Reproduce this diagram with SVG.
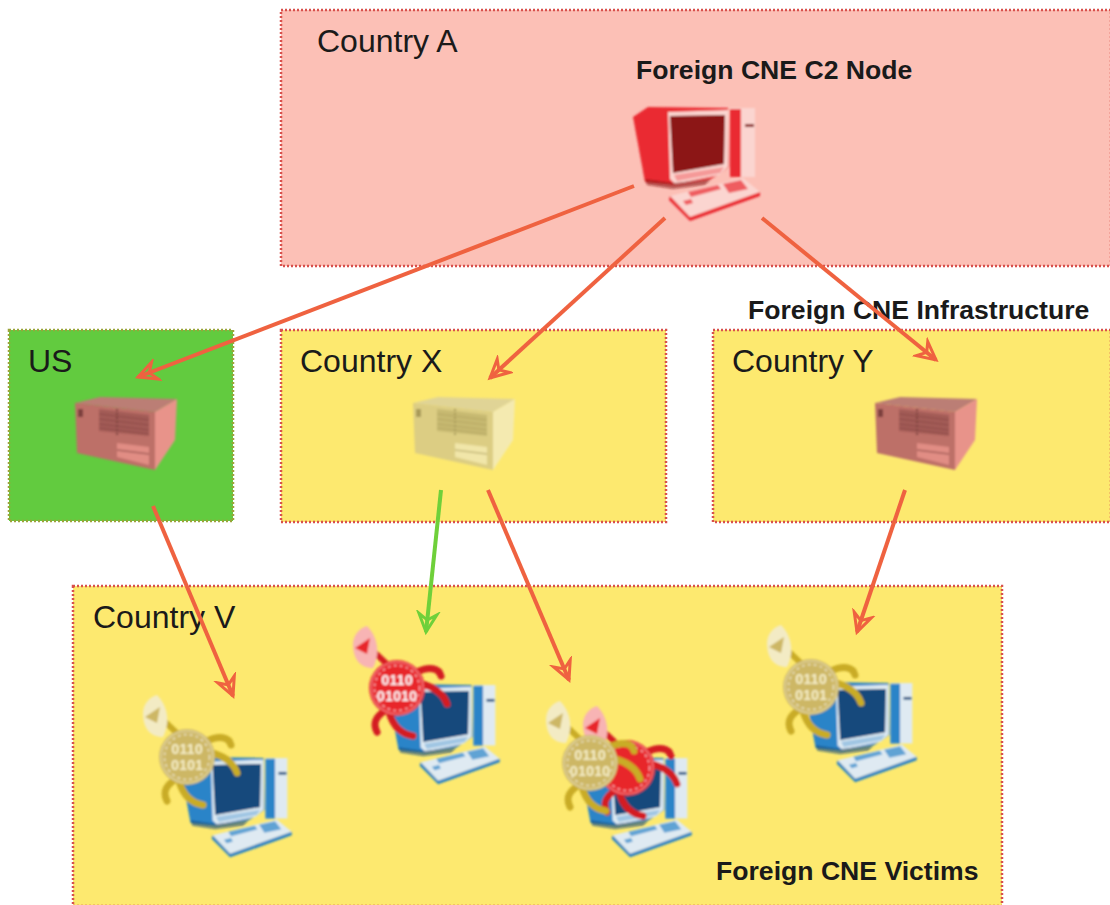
<svg xmlns="http://www.w3.org/2000/svg" width="1110" height="905" viewBox="0 0 1110 905">
<style>
text{font-family:"Liberation Sans",Arial,sans-serif;fill:#1a1a1a}
.c{font-size:32px}
.b{font-size:26.6px;font-weight:bold}
.box{stroke-width:2.5;stroke-dasharray:2 2}
.arrow{fill:none;stroke-width:4;stroke:#ef6240}
.green{stroke:#6fd03a}
.bit{font-family:"Liberation Sans",sans-serif;font-size:14.5px;font-weight:bold;text-anchor:middle;fill:#fff}
.bit.g{fill:#f6efc8}
.redB{color:#e8262c;--dark:#d41e24;--lite:#f8b4b4}
.goldB{color:#cdb765;--dark:#c9ac25;--lite:#f3ebc4}
.redS{--f:#bd6f68;--s:#e8938a;--t:#bb7e74;--d:#7c3f3c}
.yelS{--f:#dccd83;--s:#f4eab0;--t:#e0d496;--d:#a89a58}
.blue{--m:#2a84c8;--l:#dfeaf2;--k:#124a7c}
.redP{--m:#ea2a30;--l:#fbd5d0;--k:#8c1212}
</style>
<defs>
<filter id="soft" x="-10%" y="-10%" width="120%" height="120%"><feGaussianBlur stdDeviation="1"/></filter>
<marker id="hr" markerUnits="userSpaceOnUse" markerWidth="28" markerHeight="28" refX="21" refY="14" orient="auto"><path d="M3,5 L21,14 L3,23 L9,14Z" fill="none" stroke="#ef6240" stroke-width="3"/></marker>
<marker id="hg" markerUnits="userSpaceOnUse" markerWidth="28" markerHeight="28" refX="21" refY="14" orient="auto"><path d="M3,5 L21,14 L3,23 L9,14Z" fill="none" stroke="#6fd03a" stroke-width="3"/></marker>
<g id="pc">
<path d="M97,1 L122,1 L122,70 L97,70Z" fill="var(--l)"/>
<path d="M97,2 L108,2 L108,70 L97,70Z" fill="var(--m)"/>
<path d="M112,17 h9 v3 h-9z" fill="var(--k)"/>
<path d="M0,10 L15,0 L95,1 L96,60 L88,66 L78,72 L42,78 L12,75Z" fill="var(--m)"/>
<path d="M35,5 L95,3 L95,60 L86,68 L42,77 L37,72Z" fill="var(--l)"/>
<path d="M37,9 L92,8 L91,57 L40,66Z" fill="var(--k)"/>
<path d="M41,68 L91,60 L87,66 L44,74Z" fill="var(--m)" opacity=".35"/>
<path d="M12,72 L42,76 L78,72 L72,78 L40,82 L14,78Z" fill="var(--k)" opacity=".6"/>
<path d="M37,89 L110,71 L127,85 L57,110Z" fill="var(--l)"/>
<path d="M37,89 L57,110 L127,85 L127,89 L57,114 L36,93Z" fill="var(--m)"/>
<path d="M55,85 L85,78 L88,82 L58,90Z M90,77 L108,73 L115,82 L96,86Z M50,94 L58,92 L60,96 L53,98Z" fill="var(--m)" opacity=".7"/>
</g>
<g id="server">
<path d="M0,6 L25,0 L102,2 L80,15Z" fill="var(--t)"/>
<path d="M0,6 L80,15 L80,73 L2,56Z" fill="var(--f)"/>
<path d="M80,15 L102,2 L100,43 L80,73Z" fill="var(--s)"/>
<path d="M24,12 L74,18 L74,39 L24,34Z" fill="var(--d)" opacity=".4"/>
<path d="M24,17 L74,23 M24,22 L74,28 M24,27 L74,33 M24,31 L74,37" stroke="var(--d)" stroke-width="1" opacity=".6"/>
<path d="M42,12 V38" stroke="var(--d)" stroke-width="2" stroke-dasharray="2 2"/>
<path d="M42,46 L74,50 L74,68 L42,60Z" fill="var(--s)" opacity=".85"/>
<path d="M42,53 L74,57" stroke="var(--d)" stroke-width="1.5" opacity=".6"/>
<path d="M3,12 h5 v8 h-5z" fill="var(--d)"/>
</g>
<g id="badge">
<path d="M-28,-40 C-20,-34 -17,-30 -8,-22" fill="none" stroke="var(--dark)" stroke-width="6"/>
<path d="M-30,-62 C-20,-52 -16,-36 -24,-20 C-38,-20 -44,-30 -44,-44 C-44,-52 -38,-60 -30,-62Z" fill="var(--lite)"/>
<path d="M-42,-40 L-27,-50 L-30,-34Z" fill="currentColor"/>
<path d="M20,-16 C32,-22 42,-20 44,-12 M24,-4 C34,-2 46,4 50,16 M-8,24 C-4,38 4,46 16,48 M-14,24 C-22,30 -24,36 -20,44" fill="none" stroke="var(--dark)" stroke-width="7" stroke-linecap="round"/>
<circle r="28" fill="currentColor"/>
<circle r="22.5" fill="none" stroke="#fff" stroke-opacity=".6" stroke-width="1.5" stroke-dasharray="3 3"/>
<circle r="26" fill="none" stroke="#fff" stroke-opacity=".35" stroke-width="1.5"/>
</g>
</defs>

<g id="country-a"><rect class="box" x="281" y="10" width="830" height="256" fill="#fcc0b6" stroke="#d8504c"/><text class="c" x="317" y="52">Country A</text><text class="b" x="636" y="79">Foreign CNE C2 Node</text></g>
<g id="c2-node" filter="url(#soft)" transform="translate(633,107)" class="redP"><use href="#pc"/></g>

<g id="us"><rect class="box" x="9" y="330" width="224" height="191" fill="#62cb3f" stroke="#9aa43a"/><text class="c" x="28" y="372">US</text><g filter="url(#soft)" class="redS" transform="translate(75,397)"><use href="#server"/></g></g>

<g id="country-x"><rect class="box" x="281" y="330" width="385" height="192" fill="#fde96f" stroke="#d8504c"/><text class="c" x="300" y="372">Country X</text><g filter="url(#soft)" class="yelS" transform="translate(413,397)"><use href="#server"/></g></g>

<g id="country-y"><rect class="box" x="713" y="330" width="398" height="192" fill="#fde96f" stroke="#d8504c"/><text class="c" x="732" y="372">Country Y</text><g filter="url(#soft)" class="redS" transform="translate(875,397)"><use href="#server"/></g></g>
<text id="infra-label" class="b" x="748" y="319">Foreign CNE Infrastructure</text>

<g id="country-v"><rect class="box" x="73" y="586" width="929" height="320" fill="#fde96f" stroke="#d8504c"/><text class="c" x="93" y="628">Country V</text><text class="b" x="716" y="880">Foreign CNE Victims</text></g>

<g id="victim-1" filter="url(#soft)">
<g transform="translate(180,757) scale(.88)" class="blue"><use href="#pc"/></g>
<g class="goldB" transform="translate(187,757)"><use href="#badge"/><text class="bit g" y="-3">0110</text><text class="bit g" y="13">0101</text></g>
</g>
<g id="victim-2" filter="url(#soft)">
<g transform="translate(388,684) scale(.88)" class="blue"><use href="#pc"/></g>
<g class="redB" transform="translate(397,688)"><use href="#badge"/><text class="bit" y="-3">0110</text><text class="bit" y="13">01010</text></g>
</g>
<g id="victim-3" filter="url(#soft)">
<g transform="translate(580,757) scale(.88)" class="blue"><use href="#pc"/></g>
<g class="redB" transform="translate(627,768)"><use href="#badge"/></g>
<g class="goldB" transform="translate(590,763)"><use href="#badge"/><text class="bit g" y="-3">0110</text><text class="bit g" y="13">01010</text></g>
</g>
<g id="victim-4" filter="url(#soft)">
<g transform="translate(805,682) scale(.88)" class="blue"><use href="#pc"/></g>
<g class="goldB" transform="translate(811,687)"><use href="#badge"/><text class="bit g" y="-3">0110</text><text class="bit g" y="13">0101</text></g>
</g>

<g id="connectors">
<path class="arrow" d="M634,186 L138,377" marker-end="url(#hr)"/>
<path class="arrow" d="M665,218 L490,378" marker-end="url(#hr)"/>
<path class="arrow" d="M762,218 L936,360" marker-end="url(#hr)"/>
<path class="arrow" d="M153,506 L233,696" marker-end="url(#hr)"/>
<path class="arrow green" d="M441,490 L426,632" marker-end="url(#hg)"/>
<path class="arrow" d="M488,490 L569,680" marker-end="url(#hr)"/>
<path class="arrow" d="M905,490 L857,632" marker-end="url(#hr)"/>
</g>
</svg>
